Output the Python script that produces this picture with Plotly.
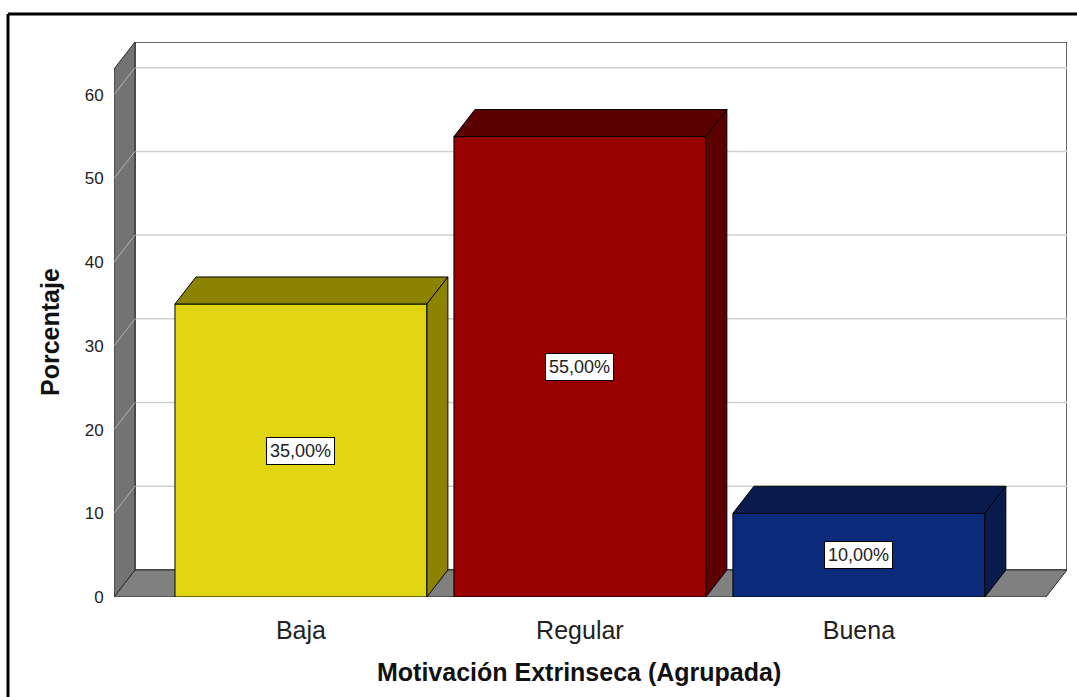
import plotly.graph_objects as go

# Data
categories = ["Baja", "Regular", "Buena"]
percentages = [35.0, 55.0, 10.0]
value_labels = ["35,00%", "55,00%", "10,00%"]
y_ticks = [0, 10, 20, 30, 40, 50, 60]

# Colours per bar: front face, top/side faces
front_colors = ["#E1D512", "#990000", "#0C2A7A"]
shade_colors = ["#8C8300", "#5C0000", "#081B4C"]

# 3D box geometry (in data units)
X_LO, X_HI = -0.670, 2.746     # left edge of front floor, right edge of back wall
Y_TOP = 66.3                   # top of back wall
WALL_FRONT_TOP = Y_TOP - 3.23
DX, DY = 0.0753, 3.23          # depth offset
BAR_W = 0.903

xs = list(range(len(categories)))

fig = go.Figure()

shapes = []
# back wall
shapes.append(dict(type="rect", xref="x", yref="y", x0=X_LO + DX, x1=X_HI, y0=DY, y1=Y_TOP,
                   fillcolor="white", line=dict(color="#3a3a3a", width=1.5), layer="below"))
# gridlines on back wall and left wall
for t in y_ticks[1:]:
    shapes.append(dict(type="line", xref="x", yref="y", x0=X_LO + DX, x1=X_HI, y0=t + DY, y1=t + DY,
                       line=dict(color="#cfcfcf", width=1.5), layer="below"))
# floor
shapes.append(dict(type="path", xref="x", yref="y",
                   path=f"M {X_LO},0 L {X_HI - DX},0 L {X_HI},{DY} L {X_LO + DX},{DY} Z",
                   fillcolor="#808080", line=dict(color="#2a2a2a", width=1), layer="below"))
# left wall
shapes.append(dict(type="path", xref="x", yref="y",
                   path=f"M {X_LO},0 L {X_LO + DX},{DY} L {X_LO + DX},{Y_TOP} L {X_LO},{WALL_FRONT_TOP} Z",
                   fillcolor="#737373", line=dict(color="#2a2a2a", width=1), layer="below"))
for t in y_ticks[1:]:
    shapes.append(dict(type="line", xref="x", yref="y", x0=X_LO, x1=X_LO + DX, y0=t, y1=t + DY,
                       line=dict(color="#b5b5b5", width=1), layer="below"))

# outer frame (top and left border)
fx = (8 - 114) / 953
fy = (597 - 14) / 555
shapes.append(dict(type="line", xref="paper", yref="paper", x0=fx, x1=fx, y0=-0.3, y1=fy,
                   line=dict(color="black", width=3)))
shapes.append(dict(type="line", xref="paper", yref="paper", x0=fx, x1=1.2, y0=fy, y1=fy,
                   line=dict(color="black", width=3)))

# front faces of bars
fig.add_trace(go.Bar(x=xs, y=percentages, width=BAR_W, marker=dict(color=front_colors,
                     line=dict(color="black", width=1)), hoverinfo="skip", showlegend=False))

# top and side faces
for i, v in enumerate(percentages):
    xl, xr = i - BAR_W / 2, i + BAR_W / 2
    fig.add_trace(go.Scatter(x=[xl, xr, xr + DX, xl + DX, xl], y=[v, v, v + DY, v + DY, v],
                             mode="lines", fill="toself", fillcolor=shade_colors[i],
                             line=dict(color="black", width=1), hoverinfo="skip", showlegend=False))
    fig.add_trace(go.Scatter(x=[xr, xr + DX, xr + DX, xr, xr], y=[0, DY, v + DY, v, 0],
                             mode="lines", fill="toself", fillcolor=shade_colors[i],
                             line=dict(color="black", width=1), hoverinfo="skip", showlegend=False))

annotations = []
for i, (v, lab) in enumerate(zip(percentages, value_labels)):
    annotations.append(dict(x=i, y=v / 2, xref="x", yref="y", text=lab, showarrow=False,
                            font=dict(family="Liberation Sans", size=18, color="#222"),
                            bgcolor="white", bordercolor="black", borderwidth=1, borderpad=3))

annotations.append(dict(xref="paper", yref="paper", x=(579 - 114) / 953, y=(597 - 672) / 555,
                        text="<b>Motivación Extrinseca (Agrupada)</b>", showarrow=False,
                        xanchor="center", yanchor="middle",
                        font=dict(family="Liberation Sans", size=25, color="#111")))
annotations.append(dict(xref="paper", yref="paper", x=(50 - 114) / 953, y=(597 - 332) / 555,
                        text="<b>Porcentaje</b>", showarrow=False, textangle=-90,
                        xanchor="center", yanchor="middle",
                        font=dict(family="Liberation Sans", size=25, color="#111")))

fig.update_layout(
    width=1077, height=697,
    margin=dict(l=114, r=10, t=42, b=100),
    paper_bgcolor="white", plot_bgcolor="white",
    shapes=shapes, annotations=annotations,
    xaxis=dict(range=[X_LO, X_HI], tickvals=xs, ticktext=categories, showgrid=False,
               zeroline=False, showline=False, ticks="outside", ticklen=11,
               tickcolor="rgba(0,0,0,0)",
               tickfont=dict(family="Liberation Sans", size=25, color="#222")),
    yaxis=dict(range=[0, Y_TOP], tickvals=y_ticks, showgrid=False, zeroline=False,
               showline=False, ticks="outside", ticklen=6, tickcolor="rgba(0,0,0,0)",
               tickfont=dict(family="Liberation Sans", size=17, color="#222")),
)

fig.write_html("out.html")
